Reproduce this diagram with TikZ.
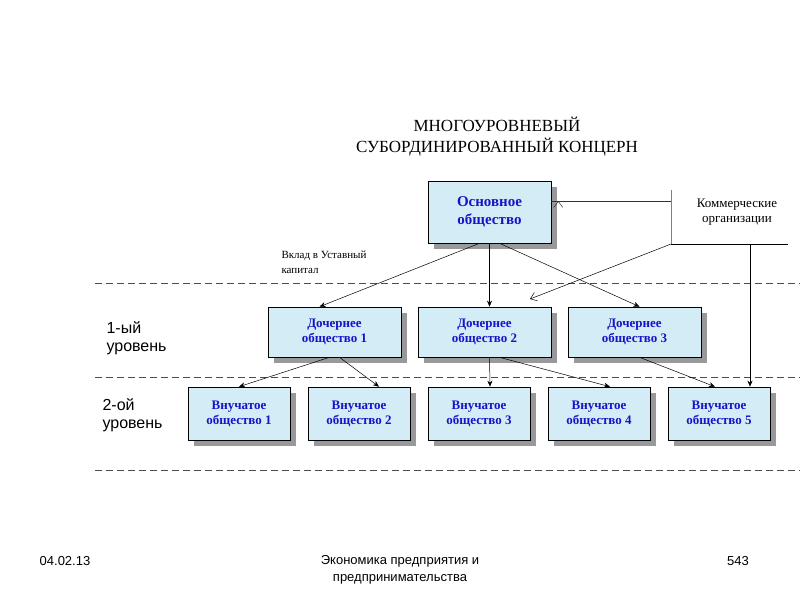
\documentclass[tikz,border=0pt]{standalone}
\usepackage{fontspec}
\setmainfont{Liberation Serif}
\newfontfamily\sansf{Liberation Sans}
\usetikzlibrary{arrows.meta,shadows}
\definecolor{boxfill}{RGB}{212,236,246}
\definecolor{txtblue}{RGB}{20,20,200}
\begin{document}
\begin{tikzpicture}[x=1pt,y=-1pt,
  box/.style={draw=black,fill=boxfill,line width=0.6pt,inner sep=0pt,
    drop shadow={shadow xshift=6pt,shadow yshift=-6pt,fill=gray!80,opacity=1},
    font=\bfseries\fontsize{13}{15}\selectfont,text=txtblue,align=center},
  ln/.style={line width=0.5pt},
  fa/.style={ln,-{Stealth[length=6pt,width=5pt]}},
  oa/.style={ln,-{Straight Barb[length=6pt,width=9pt]}},
  dsh/.style={gray!60!black,line width=0.8pt,dash pattern=on 7pt off 4pt},
  lvl/.style={font=\sansf\fontsize{16}{18}\selectfont,align=left,anchor=west}]
\useasboundingbox (0,0) rectangle (800,600);
\fill[white] (0,0) rectangle (800,600);
\draw[dsh] (95,283) -- (800,283);
\draw[dsh] (95,377) -- (800,377);
\draw[dsh] (95,470) -- (800,470);
\node[font=\fontsize{17}{21}\selectfont,align=center] (title) at (497,137) {МНОГОУРОВНЕВЫЙ\\СУБОРДИНИРОВАННЫЙ КОНЦЕРН};
\node[box,minimum width=123pt,minimum height=62pt,font=\bfseries\fontsize{15}{18}\selectfont] (main) at (489.5,212) {Основное\\общество};
\node[box,minimum width=133pt,minimum height=50pt] (d1) at (334.5,332) {Дочернее\\общество 1};
\node[box,minimum width=133pt,minimum height=50pt] (d2) at (484.5,332) {Дочернее\\общество 2};
\node[box,minimum width=133pt,minimum height=50pt] (d3) at (634.5,332) {Дочернее\\общество 3};
\foreach \i/\x in {1/239,2/359,3/479,4/599,5/719}
  \node[box,minimum width=102pt,minimum height=53pt] (v\i) at (\x,413.5) {Внучатое\\общество \i};
\node[font=\fontsize{13}{15}\selectfont,align=center] (kom) at (737,212) {Коммерческие\\организации};
\node[font=\fontsize{11}{15}\selectfont,align=left,anchor=west] (vklad) at (278,262) {Вклад в Уставный\\капитал};
\node[lvl] (l1) at (103,338) {1-ый\\уровень};
\node[lvl] (l2) at (99,415) {2-ой\\уровень};
\coordinate (kt) at (671,190);
\coordinate (kb) at (671,244);
\coordinate (kr) at (788,244);
\coordinate (kd) at (750,244);
\draw[ln,gray] (kt) -- (kb);
\draw[ln] (kb) -- (kr);
\draw[oa,gray!40!black] (kb |- 0,201) -- (main.east |- 0,201) ++(7,0);
\draw[oa] (kb) -- (530,299);
\draw[fa] (kd) -- (v5.north -| kd);
\draw[fa] ([xshift=-10pt]main.south) -- ([xshift=-15pt]d1.north);
\draw[fa] (main.south) -- (main.south |- d2.north);
\draw[fa] ([xshift=10pt]main.south) -- ([xshift=5pt]d3.north);
\draw[fa] ([xshift=-5pt]d1.south) -- (v1.north);
\draw[fa] ([xshift=5pt]d1.south) -- ([xshift=20pt]v2.north);
\draw[fa] ([xshift=5pt]d2.south) -- ([xshift=11pt]v3.north);
\draw[fa] ([xshift=15pt]d2.south) -- ([xshift=11pt]v4.north);
\draw[fa] ([xshift=5pt]d3.south) -- ([xshift=-4pt]v5.north);
\node[font=\sansf\fontsize{13}{17}\selectfont] (date) at (65,561) {04.02.13};
\node[font=\sansf\fontsize{13}{17}\selectfont,align=center] (foot) at (400,570) {Экономика предприятия и\\предпринимательства};
\node[font=\sansf\fontsize{13}{17}\selectfont] (num) at (738,561) {543};
\end{tikzpicture}
\end{document}
